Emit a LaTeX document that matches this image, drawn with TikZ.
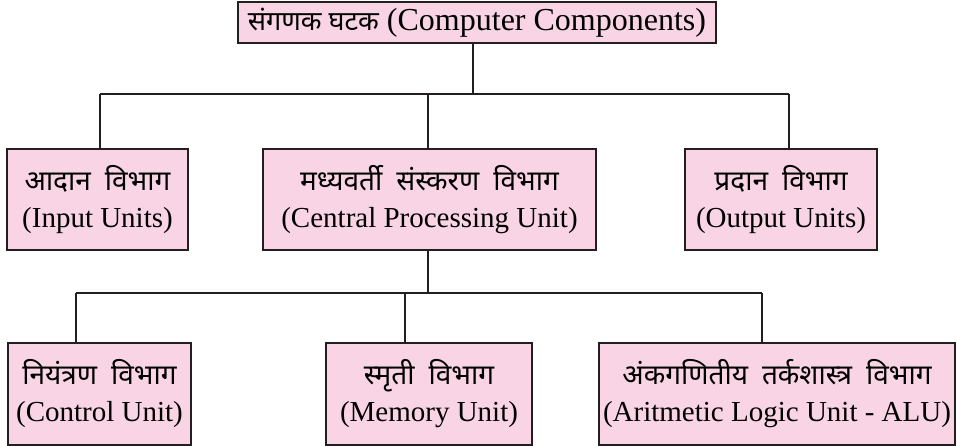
\documentclass[tikz,border=0pt]{standalone}
\usepackage{fontspec}
\setmainfont{Liberation Serif}
\newfontfamily\devfont[Script=Devanagari]{Noto Sans}
% Devanagari line inside a box, with wide word gaps
\newcommand{\dv}[1]{{\devfont\fontsize{28}{30}\selectfont #1}}
\newcommand{\gap}{\hskip 14pt\relax}
\definecolor{boxpink}{RGB}{248,212,228}
\definecolor{edgeink}{RGB}{35,31,32}
\tikzset{
  unitbox/.style={draw=edgeink, line width=2pt, fill=boxpink, inner sep=0pt,
    align=center, font=\fontsize{29}{37}\selectfont},
  wire/.style={draw=edgeink, line width=2pt},
}
\begin{document}
\begin{tikzpicture}[x=1pt,y=-1pt]
\useasboundingbox (0,0) rectangle (957,446);

% root
\node[unitbox, minimum width=478pt, minimum height=41pt,
      font=\fontsize{32}{36}\selectfont] (root) at (477,22.5)
  {{\devfont\fontsize{27}{30}\selectfont संगणक घटक} (Computer Components)};

% first level
\node[unitbox, minimum width=181pt, minimum height=101pt] (inp) at (97.5,199.5)
  {\dv{आदान\gap विभाग}\\(Input Units)};
\node[unitbox, minimum width=333pt, minimum height=101pt] (cpu) at (429.5,199.5)
  {\dv{मध्यवर्ती\gap संस्करण\gap विभाग}\\(Central Processing Unit)};
\node[unitbox, minimum width=192pt, minimum height=101pt] (out) at (781,199.5)
  {\dv{प्रदान\gap विभाग}\\(Output Units)};

% second level
\node[unitbox, minimum width=183pt, minimum height=102pt] (ctl) at (99.5,394)
  {\dv{नियंत्रण\gap विभाग}\\(Control Unit)};
\node[unitbox, minimum width=206pt, minimum height=102pt] (mem) at (429,394)
  {\dv{स्मृती\gap विभाग}\\(Memory Unit)};
\node[unitbox, minimum width=356pt, minimum height=102pt] (alu) at (777,394)
  {\dv{अंकगणितीय\gap तर्कशास्त्र\gap विभाग}\\(Aritmetic Logic Unit - ALU)};

% bus rails
\coordinate (r1) at (473,94);
\coordinate (r1a) at (100,94);
\coordinate (r1b) at (428,94);
\coordinate (r1c) at (789,94);
\coordinate (r2) at (428,293);
\coordinate (r2a) at (76,293);
\coordinate (r2b) at (405,293);
\coordinate (r2c) at (762,293);

\draw[wire] (root.south -| r1) -- (r1);
\draw[wire] (r1a) -- (r1c);
\draw[wire] (r1a) -- (inp.north -| r1a);
\draw[wire] (r1b) -- (cpu.north -| r1b);
\draw[wire] (r1c) -- (out.north -| r1c);

\draw[wire] (cpu.south -| r2) -- (r2);
\draw[wire] (r2a) -- (r2c);
\draw[wire] (r2a) -- (ctl.north -| r2a);
\draw[wire] (r2b) -- (mem.north -| r2b);
\draw[wire] (r2c) -- (alu.north -| r2c);
\end{tikzpicture}
\end{document}
